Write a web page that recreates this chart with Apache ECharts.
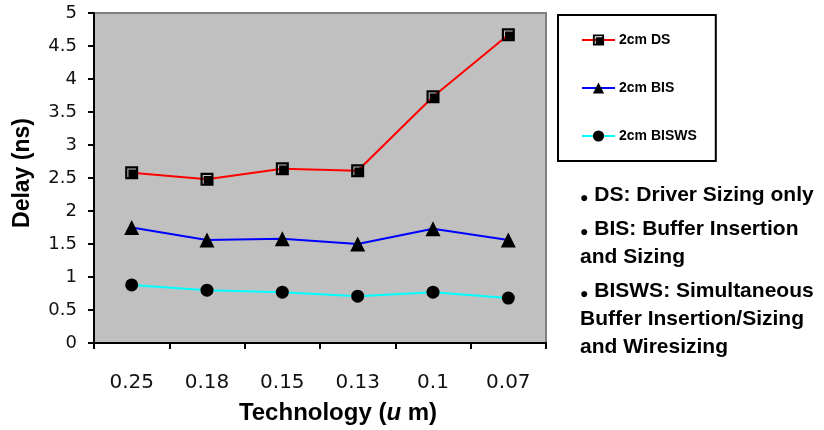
<!DOCTYPE html>
<html>
<head>
<meta charset="utf-8">
<script src="https://cdn.jsdelivr.net/npm/echarts@6/dist/echarts.min.js"></script>
<style>
  html, body { margin: 0; padding: 0; background: #fff; }
  #chart { width: 824px; height: 430px; }
</style>
</head>
<body>
<div id="chart"></div>
<script>
// technology nodes (um) and delay values (ns)
const categories = ["0.25", "0.18", "0.15", "0.13", "0.1", "0.07"];
const dsDelay = [2.58, 2.48, 2.64, 2.61, 3.73, 4.67];
const bisDelay = [1.75, 1.56, 1.58, 1.50, 1.73, 1.56];
const biswsDelay = [0.88, 0.80, 0.77, 0.71, 0.77, 0.68];
const yTicks = { min: 0, max: 5, step: 0.5 };

const notes = [
  ["DS: Driver Sizing only"],
  ["BIS: Buffer Insertion", "and Sizing"],
  ["BISWS: Simultaneous", "Buffer Insertion/Sizing", "and Wiresizing"]
];

const font = "Liberation Sans, Arial, sans-serif";
const tickFont = "DejaVu Sans, sans-serif";
// black square with a light L-shaped highlight (hole)
const squareSymbol = "path://M0,0L12,0L12,12L0,12Z M2,2L2,10L3,10L3,3L10,3L10,2Z";

const chart = echarts.init(document.getElementById("chart"));

// side notes as graphic texts
let noteTexts = [];
let y = 185;
notes.forEach((lines, i) => {
  lines.forEach((line, j) => {
    noteTexts.push({
      type: "text",
      left: 580,
      top: y,
      style: {
        text: j === 0 ? "{b|●}{t| " + line + "}" : "{t|" + line + "}",
        rich: {
          b: { fontSize: 14, fontFamily: font, fill: "#000", verticalAlign: "bottom", padding: [0, 0, 1, 0] },
          t: { fontSize: 21, fontWeight: "bold", fontFamily: font, fill: "#000" }
        }
      }
    });
    y += 28;
  });
  y += 6;
});

const option = {
  animation: false,
  backgroundColor: "#fff",
  textStyle: { fontFamily: font },
  grid: {
    left: 94,
    right: 278,
    top: 13,
    bottom: 87,
    outerBoundsMode: "none",
    show: true,
    backgroundColor: "#c0c0c0",
    borderColor: "#808080",
    borderWidth: 2
  },
  legend: {
    orient: "vertical",
    left: 558,
    top: 15,
    padding: [18, 19, 18, 23],
    itemGap: 34,
    itemWidth: 33,
    itemHeight: 14,
    borderColor: "#000",
    borderWidth: 2,
    backgroundColor: "#fff",
    textStyle: { fontSize: 14, fontWeight: "bold", color: "#000", fontFamily: font, padding: [0, 0, 0, -1] },
    data: ["2cm DS", "2cm BIS", "2cm BISWS"]
  },
  xAxis: {
    type: "category",
    data: categories,
    boundaryGap: true,
    name: "{a|Technology (}{i|u}{a| m)}",
    nameLocation: "middle",
    nameGap: 58,
    nameTextStyle: {
      padding: [0, 0, 0, 36],
      rich: {
        a: { fontSize: 24, fontWeight: "bold", color: "#000", fontFamily: font },
        i: { fontSize: 24, fontWeight: "bold", fontStyle: "italic", color: "#000", fontFamily: font }
      }
    },
    axisLine: { lineStyle: { color: "#000", width: 2 } },
    axisTick: { show: true, inside: false, length: 6, lineStyle: { color: "#000", width: 2 } },
    axisLabel: { fontSize: 20, color: "#111", margin: 30, fontFamily: tickFont }
  },
  yAxis: {
    type: "value",
    min: yTicks.min,
    max: yTicks.max,
    interval: yTicks.step,
    name: "Delay (ns)",
    nameLocation: "middle",
    nameGap: 60,
    nameTextStyle: { fontSize: 23, fontWeight: "bold", color: "#000", fontFamily: font, padding: [0, 0, 0, 10] },
    axisLine: { show: true, lineStyle: { color: "#000", width: 2 } },
    axisTick: { show: true, length: 6, lineStyle: { color: "#000", width: 2 } },
    splitLine: { show: false },
    axisLabel: { fontSize: 18, color: "#111", margin: 17, fontFamily: tickFont }
  },
  series: [
    {
      name: "2cm DS",
      type: "line",
      data: dsDelay,
      symbol: squareSymbol,
      symbolSize: 13,
      itemStyle: { color: "#000" },
      lineStyle: { color: "#ff0000", width: 2 }
    },
    {
      name: "2cm BIS",
      type: "line",
      data: bisDelay,
      symbol: "triangle",
      symbolSize: 15,
      itemStyle: { color: "#000" },
      lineStyle: { color: "#0000ff", width: 2 }
    },
    {
      name: "2cm BISWS",
      type: "line",
      data: biswsDelay,
      symbol: "circle",
      symbolSize: 13,
      itemStyle: { color: "#000" },
      lineStyle: { color: "#00ffff", width: 2 }
    }
  ],
  graphic: noteTexts
};

chart.setOption(option);
</script>
</body>
</html>
